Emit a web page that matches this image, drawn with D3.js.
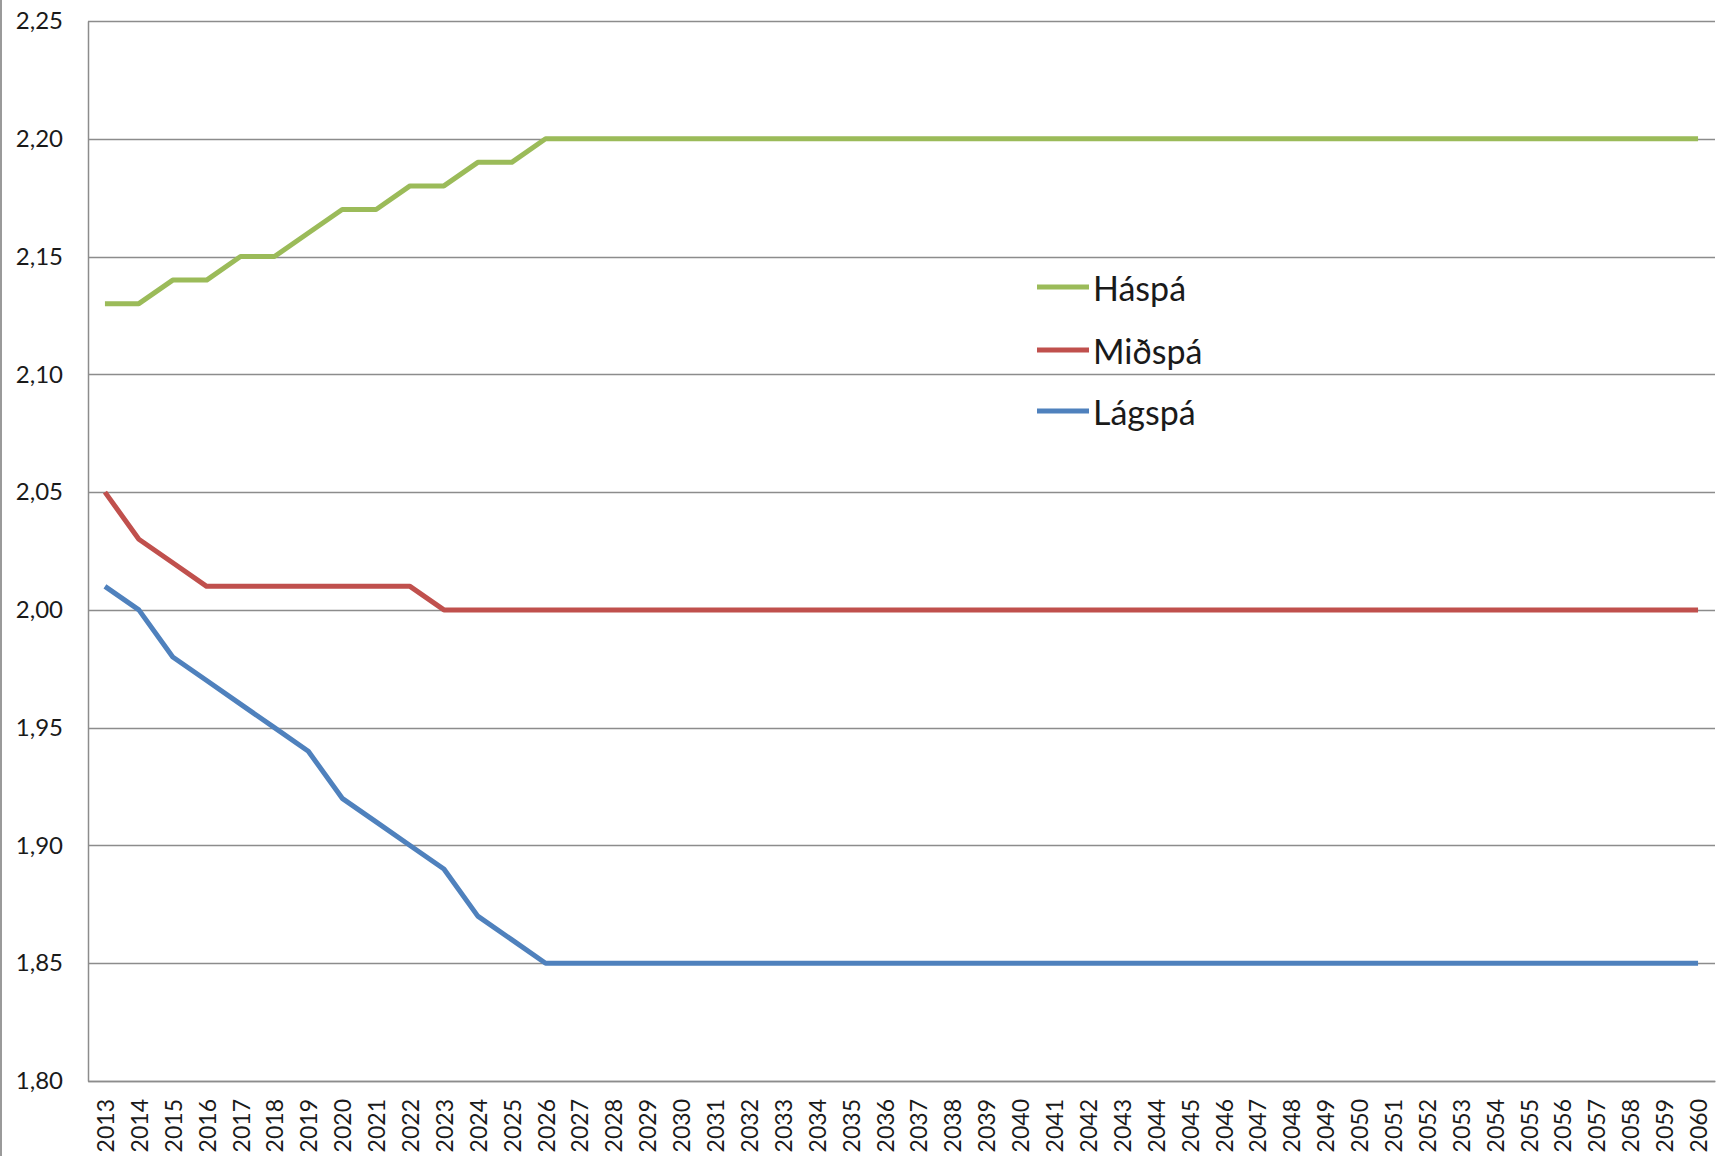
<!DOCTYPE html>
<html>
<head>
<meta charset="utf-8">
<script src="https://cdn.jsdelivr.net/npm/d3@7"></script>
<style>
  html, body { margin: 0; padding: 0; background: #fff; }
  svg { display: block; }
  text { font-family: Lato, "Open Sans", sans-serif; fill: #1a1a1a; }
</style>
</head>
<body>
<svg id="chart" width="1719" height="1156"></svg>
<script>
const years = [2013,2014,2015,2016,2017,2018,2019,2020,2021,2022,2023,2024,2025,2026,2027,2028,2029,2030,2031,2032,2033,2034,2035,2036,2037,2038,2039,2040,2041,2042,2043,2044,2045,2046,2047,2048,2049,2050,2051,2052,2053,2054,2055,2056,2057,2058,2059,2060];

const haspa = [2.13,2.13,2.14,2.14,2.15,2.15,2.16,2.17,2.17,2.18,2.18,2.19,2.19,2.20,2.20,2.20,2.20,2.20,2.20,2.20,2.20,2.20,2.20,2.20,2.20,2.20,2.20,2.20,2.20,2.20,2.20,2.20,2.20,2.20,2.20,2.20,2.20,2.20,2.20,2.20,2.20,2.20,2.20,2.20,2.20,2.20,2.20,2.20];

const midspa = [2.05,2.03,2.02,2.01,2.01,2.01,2.01,2.01,2.01,2.01,2.00,2.00,2.00,2.00,2.00,2.00,2.00,2.00,2.00,2.00,2.00,2.00,2.00,2.00,2.00,2.00,2.00,2.00,2.00,2.00,2.00,2.00,2.00,2.00,2.00,2.00,2.00,2.00,2.00,2.00,2.00,2.00,2.00,2.00,2.00,2.00,2.00,2.00];

const lagspa = [2.01,2.00,1.98,1.97,1.96,1.95,1.94,1.92,1.91,1.90,1.89,1.87,1.86,1.85,1.85,1.85,1.85,1.85,1.85,1.85,1.85,1.85,1.85,1.85,1.85,1.85,1.85,1.85,1.85,1.85,1.85,1.85,1.85,1.85,1.85,1.85,1.85,1.85,1.85,1.85,1.85,1.85,1.85,1.85,1.85,1.85,1.85,1.85];

const yTicks = [1.80,1.85,1.90,1.95,2.00,2.05,2.10,2.15,2.20,2.25];

const seriesNames = ["Háspá","Miðspá","Lágspá"];
const seriesColors = ["#9BBB59","#C0504D","#4F81BD"];
const seriesValues = [haspa, midspa, lagspa];

const svg = d3.select("#chart");
const mLeft = 88, mRight = 1715, mTop = 21, mBottom = 1081;

const x = d3.scaleBand().domain(years).range([mLeft, mRight]).paddingInner(0).paddingOuter(0);
const y = d3.scaleLinear().domain([1.80, 2.25]).range([mBottom, mTop]);
const fmt = v => d3.format(".2f")(v).replace(".", ",");

// outer frame line at far left
svg.append("line").attr("x1", 1).attr("x2", 1).attr("y1", 0).attr("y2", 1156)
  .attr("stroke", "#9a9a9a").attr("stroke-width", 2);

// gridlines
svg.append("g").selectAll("line").data(yTicks).join("line")
  .attr("x1", mLeft).attr("x2", mRight)
  .attr("y1", d => Math.round(y(d)) + 0.5).attr("y2", d => Math.round(y(d)) + 0.5)
  .attr("stroke", "#8c8c8c").attr("stroke-width", 1.3);

// y axis
const yAxis = d3.axisLeft(y).tickValues(yTicks).tickFormat(fmt).tickSize(0).tickPadding(25);
const gy = svg.append("g").attr("transform", `translate(${mLeft},0)`).call(yAxis);
gy.select(".domain").attr("stroke", "#8c8c8c").attr("stroke-width", 1.5);
gy.selectAll("text").style("font-size", "24px").attr("fill", "#1a1a1a")
  .style("font-family", "Lato, sans-serif");

// x axis
const xAxis = d3.axisBottom(x).tickSize(0).tickPadding(0);
const gx = svg.append("g").attr("transform", `translate(0,${mBottom})`).call(xAxis);
gx.select(".domain").attr("stroke", "#8c8c8c").attr("stroke-width", 1.5);
gx.selectAll("text")
  .style("font-size", "23px").attr("fill", "#111")
  .style("font-family", "Lato, sans-serif")
  .attr("text-anchor", "end")
  .attr("dy", null)
  .attr("dominant-baseline", "central")
  .attr("transform", "translate(0,18) rotate(-90)")
  .attr("y", 0).attr("x", 0);

// lines
const line = d3.line()
  .x((d, i) => x(years[i]) + x.bandwidth() / 2)
  .y(d => y(d));

svg.append("g").selectAll("path").data(seriesValues).join("path")
  .attr("d", d => line(d))
  .attr("fill", "none")
  .attr("stroke", (d, i) => seriesColors[i])
  .attr("stroke-width", 5)
  .attr("stroke-linejoin", "round");

// legend
const legendY = [287, 350, 411];
const lg = svg.append("g");
seriesNames.forEach((name, i) => {
  lg.append("line").attr("x1", 1037).attr("x2", 1089)
    .attr("y1", legendY[i]).attr("y2", legendY[i])
    .attr("stroke", seriesColors[i]).attr("stroke-width", 5);
  lg.append("text").attr("x", 1093).attr("y", legendY[i])
    .attr("dominant-baseline", "central")
    .style("font-size", "34px")
    .text(name);
});
</script>
</body>
</html>
